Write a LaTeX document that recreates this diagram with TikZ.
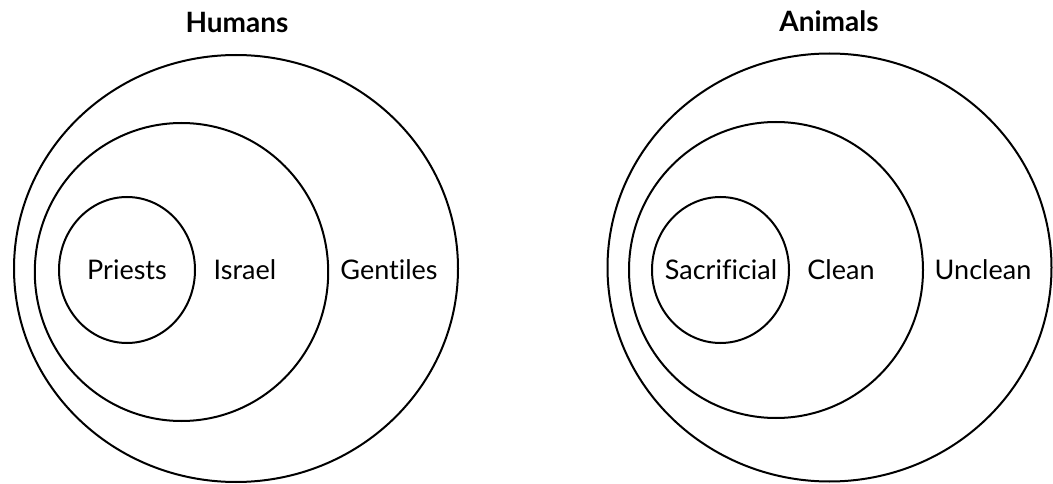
\documentclass[tikz,border=0pt]{standalone}
\usepackage{fontspec}
\setmainfont{Lato}[Ligatures=NoCommon]
\begin{document}
\begin{tikzpicture}[x=1pt,y=-1pt,
  ring/.style={draw=black,line width=2pt},
  lbl/.style={anchor=base,inner sep=0pt,font=\fontsize{27}{30}\selectfont},
  ttl/.style={anchor=base,inner sep=0pt,font=\fontsize{28}{31}\selectfont\bfseries}]
\useasboundingbox (0,0) rectangle (1053,484);
% Humans
\draw[ring] (236,268.5) ellipse [x radius=222pt, y radius=213.5pt];
\draw[ring] (181.5,272) ellipse [x radius=146.7pt, y radius=149pt];
\draw[ring] (127,270) ellipse [x radius=68pt, y radius=73pt];
\node[ttl] (humans) at (237,33) {Humans};
\node[lbl] (priests) at (127,279) {Priests};
\node[lbl] (israel) at (245,279) {Israel};
\node[lbl] (gentiles) at (389,279) {Gentiles};
% Animals
\draw[ring] (829.5,267.5) ellipse [x radius=222pt, y radius=214pt];
\draw[ring] (776,270) ellipse [x radius=147pt, y radius=148pt];
\draw[ring] (720.5,270) ellipse [x radius=68.5pt, y radius=73pt];
\node[ttl] (animals) at (829,32) {Animals};
\node[lbl] (sacrificial) at (721,279) {Sacrificial};
\node[lbl] (clean) at (841,279) {Clean};
\node[lbl] (unclean) at (983,279) {Unclean};
\end{tikzpicture}
\end{document}
